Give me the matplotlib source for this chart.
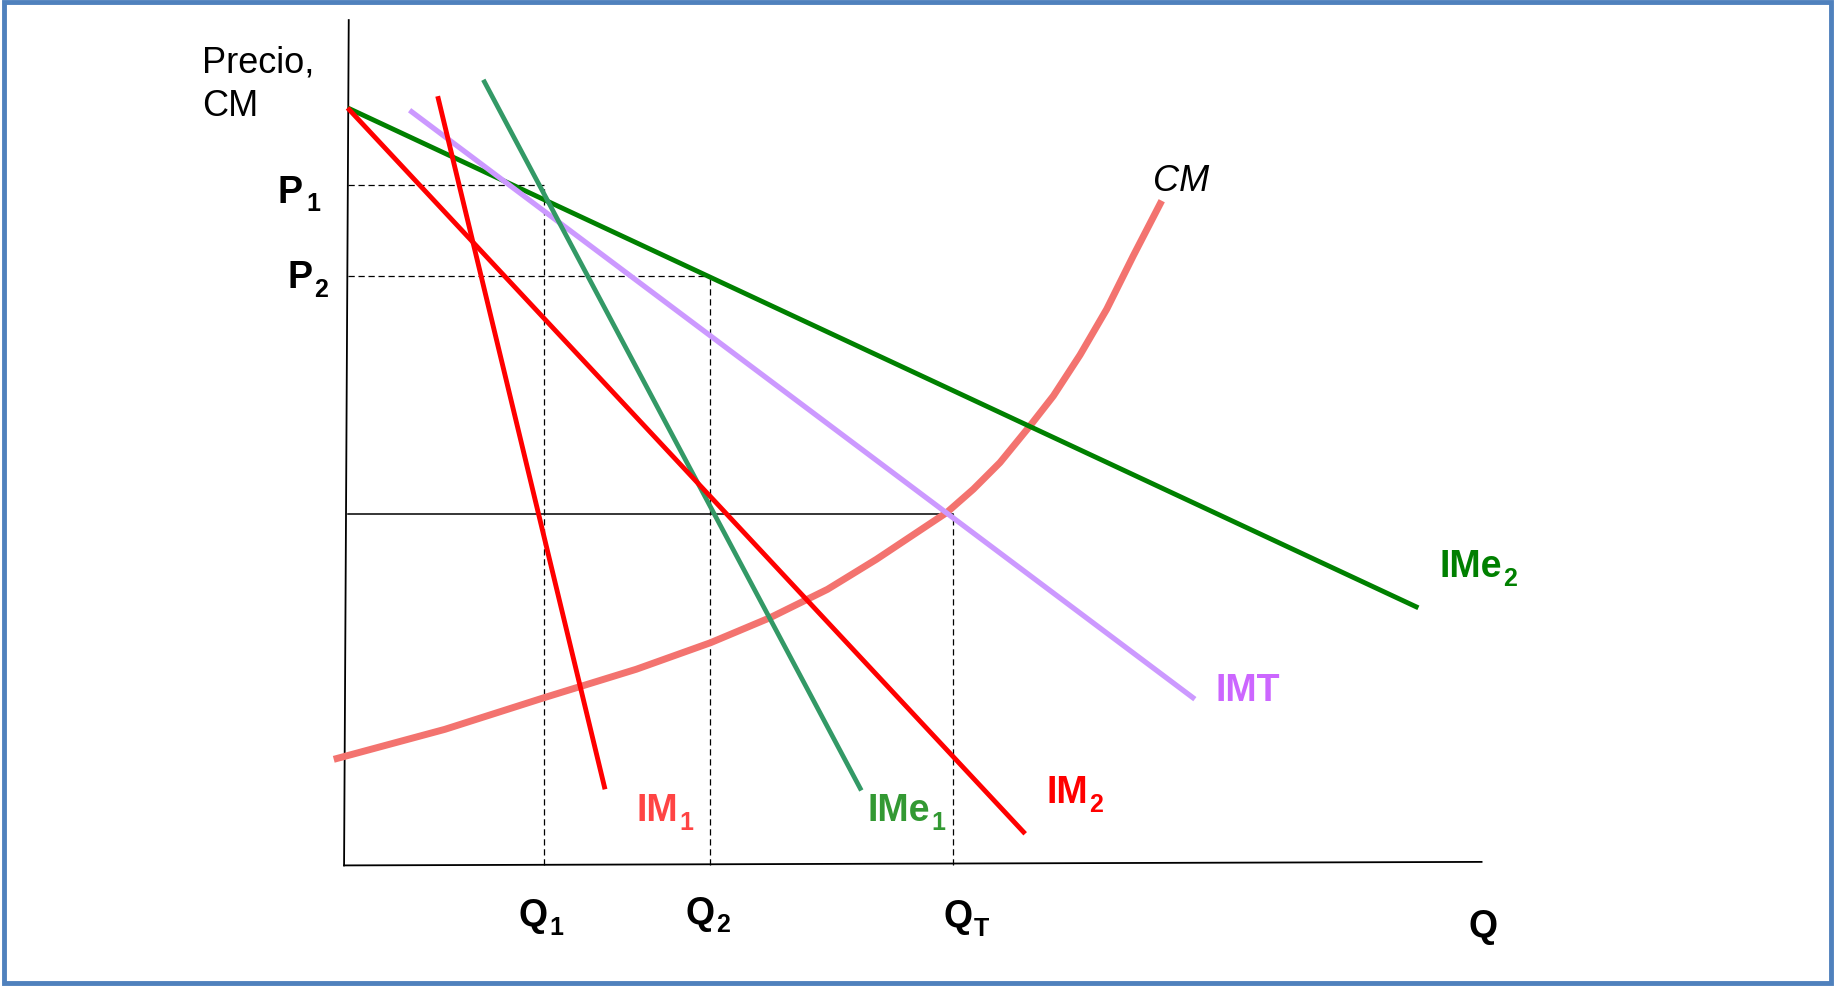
import matplotlib
matplotlib.use("Agg")
import matplotlib.pyplot as plt
from matplotlib.patches import Rectangle

plt.rcParams['font.family'] = ['Liberation Sans', 'DejaVu Sans']

# curvas rectas (extremos)
ime2_q = [0.0, 91.5]
ime2_p = [64.7, 22.0]
im2_q = [0.0, 57.9]
im2_p = [64.7, 2.7]
imt_q = [5.3, 72.4]
imt_p = [64.5, 14.2]
im1_q = [7.7, 22.0]
im1_p = [65.7, 6.5]
ime1_q = [11.6, 43.9]
ime1_p = [67.1, 6.4]

# coste marginal
cm_q = [-1.18, 8.31, 16.81, 24.66, 31.04, 36.11, 41.01, 45.2, 51.2,
        53.47, 55.75, 58.31, 60.31, 62.59, 64.87, 67.14, 69.57]
cm_p = [9.06, 11.62, 14.33, 16.75, 19.03, 21.16, 23.58, 26.15, 30.14,
        32.13, 34.41, 37.54, 40.1, 43.6, 47.51, 52.07, 56.77]

# niveles de precio y cantidad
p1, p2, cm_eq = 58.1, 50.3, 30.0
q1, q2, qt = 16.8, 31.0, 51.7

fig = plt.figure(figsize=(18.35, 9.87), dpi=100)
ax = fig.add_axes([0, 0, 1, 1])
ax.set_xlim(-29.7, 127.1)
ax.set_ylim(-10.3, 74.0)
ax.axis('off')

# ejes
ax.plot([0.1, -0.3], [72.2, 0.0], color='black', lw=1.3)
ax.plot([-0.3, 96.9], [0.0, 0.3], color='black', lw=1.3)

# lineas de referencia
dash = dict(color='black', lw=0.9, ls=(0, (5, 3)))
ax.plot([0, q1], [p1, p1], **dash)
ax.plot([q1, q1], [0, p1], **dash)
ax.plot([0, q2], [p2, p2], **dash)
ax.plot([q2, q2], [0, p2], **dash)
ax.plot([qt, qt], [0, cm_eq], **dash)
ax.plot([0, qt], [cm_eq, cm_eq], color='black', lw=1.1)

ax.plot(cm_q, cm_p, color='#F3736F', lw=5, solid_capstyle='butt',
        solid_joinstyle='round')
ax.plot(ime2_q, ime2_p, color='#008000', lw=3.5, solid_capstyle='butt')
ax.plot(imt_q, imt_p, color='#CC99FF', lw=3.8, solid_capstyle='butt')
ax.plot(ime1_q, ime1_p, color='#339966', lw=3.4, solid_capstyle='butt')
ax.plot(im2_q, im2_p, color='#FF0000', lw=3.5, solid_capstyle='butt')
ax.plot(im1_q, im1_p, color='#FF0000', lw=3.5, solid_capstyle='butt')

fs, fs_sub = 27, 18


def etiqueta(x, y, txt, sub, color='black', gap=1.0):
    t = ax.text(x, y, txt, fontsize=fs, fontweight='bold', color=color,
                ha='left', va='baseline')
    if sub:
        ax.annotate(sub, xy=(1, 0), xycoords=t, xytext=(gap, -0.5),
                    textcoords='offset points', fontsize=fs_sub,
                    fontweight='bold', color=color, ha='left', va='baseline')


ax.text(-12.4, 67.85, 'Precio,', fontsize=26, ha='left', va='baseline')
ax.text(-12.4, 64.1, 'CM', fontsize=26, ha='left', va='baseline')

etiqueta(-6.0, 56.7, 'P', '1', gap=3)
etiqueta(-5.1, 49.4, 'P', '2')
etiqueta(14.6, -5.1, 'Q', '1')
etiqueta(28.9, -4.9, 'Q', '2')
etiqueta(50.9, -5.2, 'Q', 'T')
etiqueta(95.8, -6.05, 'Q', '')
ax.text(68.8, 57.7, 'CM', fontsize=26, style='italic', ha='left', va='baseline')
etiqueta(93.3, 24.7, 'IMe', '2', color='#008000')
etiqueta(74.2, 14.1, 'IMT', '', color='#CC66FF')
etiqueta(24.7, 3.85, 'IM', '1', color='#FF4444')
etiqueta(44.4, 3.85, 'IMe', '1', color='#339933')
etiqueta(59.7, 5.4, 'IM', '2', color='#FF0000')

# marco azul
fig.patches.append(Rectangle((0.002, 0.003), 0.996, 0.994, transform=fig.transFigure,
                             fill=False, edgecolor='#4F81BD', lw=3.5))

fig.savefig('out.png', dpi=100)
